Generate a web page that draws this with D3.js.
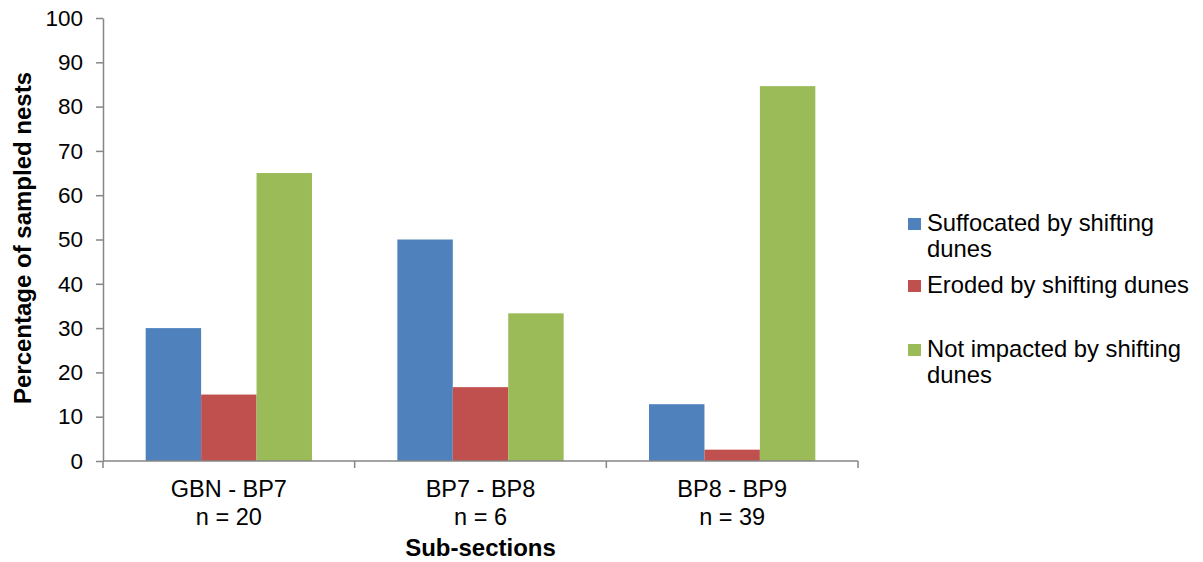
<!DOCTYPE html>
<html>
<head>
<meta charset="utf-8">
<script src="https://cdn.jsdelivr.net/npm/d3@7"></script>
<style>
  html, body { margin: 0; padding: 0; background: #fff; }
  svg { display: block; font-family: "Liberation Sans", Arial, sans-serif; }
</style>
</head>
<body>
<svg id="chart" width="1203" height="562"></svg>
<script>
// Sub-sections along the beach and their sample sizes
const sections = ["GBN - BP7", "BP7 - BP8", "BP8 - BP9"];
const sampleSizes = ["n = 20", "n = 6", "n = 39"];

// Series: percentage of sampled nests per outcome
const seriesNames = [
  "Suffocated by shifting dunes",
  "Eroded by shifting dunes",
  "Not impacted by shifting dunes"
];
const suffocated = [30, 50, 12.82];
const eroded = [15, 16.67, 2.56];
const notImpacted = [65, 33.33, 84.62];
const seriesColors = ["#4F81BD", "#C0504D", "#9BBB59"];
const yTicks = [0, 10, 20, 30, 40, 50, 60, 70, 80, 90, 100];

const seriesValues = [suffocated, eroded, notImpacted];

const svg = d3.select("#chart");
const margin = { left: 103, right: 345, top: 18, bottom: 101 };
const W = 1203, H = 562;
const plotW = W - margin.left - margin.right;
const plotH = H - margin.top - margin.bottom;

const g = svg.append("g").attr("transform", `translate(${margin.left},${margin.top})`);

const x0 = d3.scaleBand().domain(sections).range([0, plotW]).paddingInner(0).paddingOuter(0);
const x1 = d3.scaleBand().domain(d3.range(seriesNames.length))
  .range([0, x0.bandwidth()]).paddingInner(0).paddingOuter(0.77);
const y = d3.scaleLinear().domain([0, 100]).range([plotH, 0]);

const axisColor = "#868686";

// Bars
sections.forEach((sec, i) => {
  const grp = g.append("g").attr("transform", `translate(${x0(sec)},0)`);
  seriesValues.forEach((vals, s) => {
    grp.append("rect")
      .attr("x", x1(s))
      .attr("y", y(vals[i]))
      .attr("width", x1.bandwidth())
      .attr("height", plotH - y(vals[i]))
      .attr("fill", seriesColors[s]);
  });
});

// Y axis
const yAxis = g.append("g")
  .call(d3.axisLeft(y).tickValues(yTicks).tickSize(7).tickSizeOuter(0).tickPadding(13));
yAxis.select(".domain").attr("stroke", axisColor).attr("stroke-width", 1.5);
yAxis.selectAll(".tick line").attr("stroke", axisColor).attr("stroke-width", 1.5);
yAxis.selectAll(".tick text").attr("fill", "#000").style("font-size", "22.5px")
  .style("font-family", "'Liberation Sans', Arial, sans-serif");

// X axis: line plus ticks at category boundaries
const xg = g.append("g").attr("transform", `translate(0,${plotH})`);
xg.append("line").attr("x1", 0).attr("x2", plotW).attr("y1", 0).attr("y2", 0)
  .attr("stroke", axisColor).attr("stroke-width", 1.5);
const boundaries = sections.map(s => x0(s)).concat([plotW]);
xg.selectAll("line.tk").data(boundaries).enter().append("line")
  .attr("class", "tk")
  .attr("x1", d => d).attr("x2", d => d).attr("y1", 0).attr("y2", 7)
  .attr("stroke", axisColor).attr("stroke-width", 1.5);

// Category labels (two lines)
sections.forEach((sec, i) => {
  const cx = x0(sec) + x0.bandwidth() / 2;
  const t = xg.append("text").attr("text-anchor", "middle")
    .style("font-size", "23.5px").attr("fill", "#000");
  t.append("tspan").attr("x", cx).attr("y", 36).text(sec);
  t.append("tspan").attr("x", cx).attr("y", 64).text(sampleSizes[i]);
});

// Axis titles
svg.append("text")
  .attr("x", margin.left + plotW / 2).attr("y", 556)
  .attr("text-anchor", "middle")
  .style("font-size", "24px").style("font-weight", "bold")
  .text("Sub-sections");

svg.append("text")
  .attr("transform", `translate(31,238) rotate(-90)`)
  .attr("text-anchor", "middle")
  .style("font-size", "24px").style("font-weight", "bold")
  .text("Percentage of sampled nests");

// Legend
const legendLines = [
  ["Suffocated by shifting", "dunes"],
  ["Eroded by shifting dunes"],
  ["Not impacted by shifting", "dunes"]
];
const legendY = [231, 293, 357];
const legend = svg.append("g");
legendLines.forEach((lines, s) => {
  legend.append("rect")
    .attr("x", 908).attr("y", legendY[s] - 13)
    .attr("width", 13).attr("height", 12)
    .attr("fill", seriesColors[s]);
  const t = legend.append("text").style("font-size", "23.8px").attr("fill", "#000");
  lines.forEach((ln, k) => {
    t.append("tspan").attr("x", 927).attr("y", legendY[s] + k * 26).text(ln);
  });
});
</script>
</body>
</html>
